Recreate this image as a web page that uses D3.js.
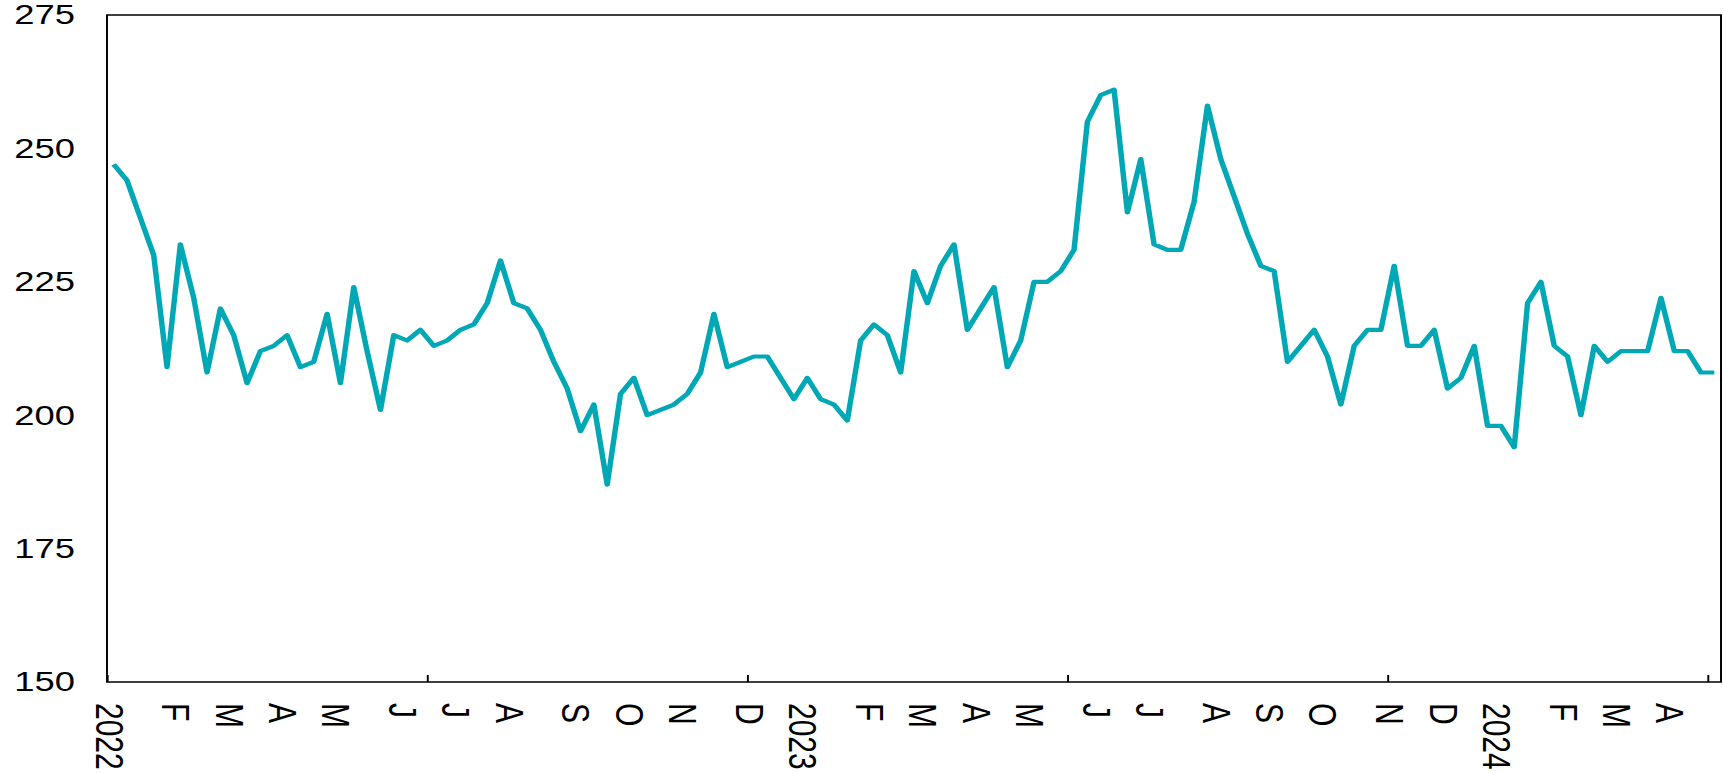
<!DOCTYPE html>
<html>
<head>
<meta charset="utf-8">
<script src="https://cdn.jsdelivr.net/npm/d3@7"></script>
<style>
  html, body { margin: 0; padding: 0; background: #fff; }
  svg { display: block; }
  text { font-family: "Liberation Sans", Arial, sans-serif; fill: #000; }
</style>
</head>
<body>
<svg id="chart" width="1723" height="773"></svg>
<script>
// ---- data (weekly observations, index 0 = first week of 2022) ----
const values = [
  247, 244, 237, 230, 209, 232, 222, 208, 220, 215,
  206, 212, 213, 215, 209, 210, 219, 206, 224, 212,
  201, 215, 214, 216, 213, 214, 216, 217, 221, 229,
  221, 220, 216, 210, 205, 197, 202, 187, 204, 207,
  200, 201, 202, 204, 208, 219, 209, 210, 211, 211,
  207, 203, 207, 203, 202, 199, 214, 217, 215, 208,
  227, 221, 228, 232, 216, 220, 224, 209, 214, 225,
  225, 227, 231, 255, 260, 261, 238, 248, 232, 231,
  231, 240, 258, 248, 241, 234, 228, 227, 210, 213,
  216, 211, 202, 213, 216, 216, 228, 213, 213, 216,
  205, 207, 213, 198, 198, 194, 221, 225, 213, 211,
  200, 213, 210, 212, 212, 212, 222, 212, 212, 208,
  208
];
const monthLabels = ["2022","F","M","A","M","J","J","A","S","O","N","D",
                     "2023","F","M","A","M","J","J","A","S","O","N","D",
                     "2024","F","M","A"];
const monthIndex  = [0,5,9,13,17,22,26,30,35,39,43,48,
                     52,57,61,65,69,74,78,83,87,91,96,100,
                     104,109,113,117];
const xTickValues = [-0.5, 23.5, 47.5, 71.5, 95.5, 119.5];
const yTickValues = [150, 175, 200, 225, 250, 275];

// ---- layout ----
const S = 1.3;               // horizontal stretch of the original rendering
const L = 107 / S, R = 1721 / S, T = 15, B = 682;

const svg = d3.select("#chart");
const g = svg.append("g").attr("transform", `scale(${S},1)`);

const x = d3.scaleLinear().domain([-0.5, values.length - 0.5]).range([L, R]);
const y = d3.scaleLinear().domain([150, 275]).range([B, T]);

// line
const line = d3.line().x((d, i) => x(i)).y(d => y(d));
g.append("path")
  .datum(values)
  .attr("fill", "none")
  .attr("stroke", "#00a8b5")
  .attr("stroke-width", 4.2)
  .attr("stroke-linejoin", "round")
  .attr("d", line);

// frame
g.append("rect")
  .attr("x", L).attr("y", T)
  .attr("width", R - L).attr("height", B - T)
  .attr("fill", "none").attr("stroke", "#000").attr("stroke-width", 1.5);

// y axis labels
const yAxis = d3.axisLeft(y).tickValues(yTickValues).tickSize(0).tickPadding(24.6);
const ya = g.append("g").attr("transform", `translate(${L},0)`).call(yAxis);
ya.select(".domain").remove();
ya.selectAll("text")
  .attr("font-size", 28)
  .attr("font-family", "'Liberation Sans', Arial, sans-serif")
  .attr("fill", "#000");

// x axis ticks (inward)
const xAxis = d3.axisBottom(x).tickValues(xTickValues).tickSize(-7).tickFormat("");
const xa = g.append("g").attr("transform", `translate(0,${B})`).call(xAxis);
xa.select(".domain").remove();
xa.selectAll(".tick line").attr("stroke", "#000").attr("stroke-width", 1.5);

// month labels, rotated
g.append("g").selectAll("text")
  .data(monthLabels)
  .join("text")
  .attr("transform", (d, k) => `translate(${x(monthIndex[k]) - 4 / S},703) rotate(90)`)
  .attr("dy", "0.36em")
  .attr("text-anchor", "start")
  .attr("font-size", 30)
  .text(d => d);
</script>
</body>
</html>
